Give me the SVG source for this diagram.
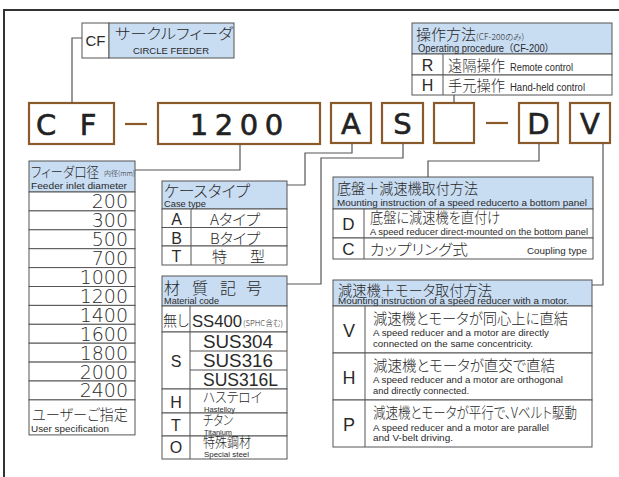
<svg xmlns="http://www.w3.org/2000/svg" width="619" height="477" viewBox="0 0 619 477">
<style>
.code{fill:#fff;stroke:#8b5a2b;stroke-width:2.2}
.hdr{fill:#c8dcf2;stroke:#555;stroke-width:1}
.cell{fill:#fff;stroke:#555;stroke-width:1}
.ln{stroke:#555;stroke-width:1;fill:none}
.conn{stroke:#555;stroke-width:1.2;fill:none}
.dash{stroke:#8b5a2b;stroke-width:2.2}
text{fill:#2a2a2a}
.jp{font-family:"Noto Sans CJK JP","Liberation Sans",sans-serif;font-feature-settings:"palt";font-weight:300}
.en{font-family:"Liberation Sans","Noto Sans CJK JP",sans-serif;font-weight:400}
.big{font-family:"DejaVu Sans",sans-serif;font-size:29px;text-anchor:middle;fill:#222;stroke:#222;stroke-width:0.6}
.num{font-family:"DejaVu Sans",sans-serif;font-size:19px;text-anchor:end;font-weight:300}
.mid{text-anchor:middle}
.end{text-anchor:end}
</style>
<rect width="619" height="477" fill="#fff"/>
<path d="M4,477 V10 H619" fill="none" stroke="#333" stroke-width="2"/>

<g id="cf-label">
<rect class="cell" x="82" y="23" width="27" height="35"/>
<rect class="hdr" x="109" y="23" width="125" height="35"/>
<text class="en mid" x="95.5" y="46" font-size="15">CF</text>
<text class="jp" x="115" y="39" font-size="15" textLength="118" lengthAdjust="spacingAndGlyphs">サークルフィーダ</text>
<text class="en mid" x="171" y="54" font-size="9.5" textLength="76" lengthAdjust="spacingAndGlyphs">CIRCLE FEEDER</text>
</g>

<g id="op-table">
<rect class="hdr" x="412" y="23" width="200" height="31"/>
<rect class="cell" x="412" y="54" width="200" height="21"/>
<rect class="cell" x="412" y="75" width="200" height="20"/>
<line class="ln" x1="443" y1="54" x2="443" y2="95"/>
<text class="jp" x="416" y="39.5" font-size="15">操作方法<tspan font-size="8.5">(CF-200のみ)</tspan></text>
<text class="en" x="418" y="51.5" font-size="10" textLength="136" lengthAdjust="spacingAndGlyphs">Operating procedure（CF-200）</text>
<text class="en mid" x="427.5" y="71" font-size="16">R</text>
<text class="jp" x="448" y="71" font-size="14.5" textLength="57" lengthAdjust="spacingAndGlyphs">遠隔操作</text>
<text class="en" x="510" y="71" font-size="10" textLength="63" lengthAdjust="spacingAndGlyphs">Remote control</text>
<text class="en mid" x="427.5" y="91" font-size="16">H</text>
<text class="jp" x="448" y="91" font-size="14.5" textLength="57" lengthAdjust="spacingAndGlyphs">手元操作</text>
<text class="en" x="510" y="91" font-size="10" textLength="75" lengthAdjust="spacingAndGlyphs">Hand-held control</text>
</g>

<g id="codes">
<rect class="code" x="29" y="103" width="85" height="41"/>
<text class="big" x="46 88" y="135">CF</text>
<line class="dash" x1="125" y1="124" x2="147" y2="124"/>
<rect class="code" x="158" y="103" width="162" height="41"/>
<text class="big" x="199 224 249 274" y="135">1200</text>
<rect class="code" x="331" y="103" width="40" height="40"/>
<text class="big" x="351" y="134">A</text>
<rect class="code" x="382" y="103" width="41" height="40"/>
<text class="big" x="402.5" y="134">S</text>
<rect class="code" x="434" y="103" width="40" height="40"/>
<line class="dash" x1="486" y1="123" x2="508" y2="123"/>
<rect class="code" x="519" y="103" width="39" height="40"/>
<text class="big" x="538.5" y="134">D</text>
<rect class="code" x="570" y="103" width="40" height="40"/>
<text class="big" x="590" y="134">V</text>
</g>

<g id="feeder">
<rect class="hdr" x="29" y="161" width="106" height="31"/>
<text class="jp" x="31" y="176.5" font-size="14" textLength="68" lengthAdjust="spacingAndGlyphs">フィーダ口径</text>
<text class="jp" x="104" y="176" font-size="7">内径(mm)</text>
<text class="en" x="31" y="188.5" font-size="9.5" textLength="96" lengthAdjust="spacingAndGlyphs">Feeder inlet diameter</text>
<rect class="cell" x="29" y="192" width="106" height="18.9"/>
<rect class="cell" x="29" y="210.9" width="106" height="18.9"/>
<rect class="cell" x="29" y="229.8" width="106" height="18.9"/>
<rect class="cell" x="29" y="248.7" width="106" height="18.9"/>
<rect class="cell" x="29" y="267.6" width="106" height="18.9"/>
<rect class="cell" x="29" y="286.5" width="106" height="18.9"/>
<rect class="cell" x="29" y="305.4" width="106" height="18.9"/>
<rect class="cell" x="29" y="324.3" width="106" height="18.9"/>
<rect class="cell" x="29" y="343.2" width="106" height="18.9"/>
<rect class="cell" x="29" y="362.1" width="106" height="18.9"/>
<rect class="cell" x="29" y="381" width="106" height="18.9"/>
<rect class="cell" x="29" y="399.9" width="106" height="35"/>
<text class="num" x="128" y="208.4">200</text>
<text class="num" x="128" y="227.3">300</text>
<text class="num" x="128" y="246.2">500</text>
<text class="num" x="128" y="265.1">700</text>
<text class="num" x="128" y="284">1000</text>
<text class="num" x="128" y="302.9">1200</text>
<text class="num" x="128" y="321.8">1400</text>
<text class="num" x="128" y="340.7">1600</text>
<text class="num" x="128" y="359.6">1800</text>
<text class="num" x="128" y="378.5">2000</text>
<text class="num" x="128" y="397.4">2400</text>
<text class="jp" x="32" y="419.5" font-size="15" textLength="96" lengthAdjust="spacingAndGlyphs">ユーザーご指定</text>
<text class="en" x="31" y="432" font-size="9" textLength="78" lengthAdjust="spacingAndGlyphs">User specification</text>
</g>

<g id="case">
<rect class="hdr" x="162" y="181" width="125" height="28"/>
<text class="jp" x="164" y="196.5" font-size="16" textLength="86" lengthAdjust="spacingAndGlyphs">ケースタイプ</text>
<text class="en" x="164" y="206.5" font-size="9" textLength="42" lengthAdjust="spacingAndGlyphs">Case type</text>
<rect class="cell" x="162" y="209" width="125" height="18.5"/>
<rect class="cell" x="162" y="227.5" width="125" height="18.5"/>
<rect class="cell" x="162" y="246" width="125" height="19"/>
<line class="ln" x1="191" y1="209" x2="191" y2="265"/>
<text class="en mid" x="176.5" y="225" font-size="16">A</text>
<text class="jp" x="210" y="225" font-size="15" textLength="50" lengthAdjust="spacingAndGlyphs">Aタイプ</text>
<text class="en mid" x="176.5" y="243.5" font-size="16">B</text>
<text class="jp" x="210" y="243.5" font-size="15" textLength="50" lengthAdjust="spacingAndGlyphs">Bタイプ</text>
<text class="en mid" x="176.5" y="262" font-size="16">T</text>
<text class="jp" x="212 250" y="262" font-size="15">特型</text>
</g>

<g id="material">
<rect class="hdr" x="162" y="276" width="125" height="30"/>
<text class="jp" x="164 192 220 246" y="293.5" font-size="16">材質記号</text>
<text class="en" x="164" y="303.5" font-size="9" textLength="55" lengthAdjust="spacingAndGlyphs">Material code</text>
<rect class="cell" x="162" y="306" width="125" height="26"/>
<rect class="cell" x="162" y="332" width="125" height="57"/>
<rect class="cell" x="162" y="389" width="125" height="24"/>
<rect class="cell" x="162" y="413" width="125" height="23"/>
<rect class="cell" x="162" y="436" width="125" height="23"/>
<line class="ln" x1="190" y1="306" x2="190" y2="459"/>
<line class="ln" x1="190" y1="351" x2="287" y2="351"/>
<line class="ln" x1="190" y1="370" x2="287" y2="370"/>
<text class="jp" x="163" y="326" font-size="15" textLength="26" lengthAdjust="spacingAndGlyphs">無し</text>
<text class="en" x="192" y="327" font-size="17" textLength="50" lengthAdjust="spacingAndGlyphs">SS400</text>
<text class="jp" x="243" y="326" font-size="8" textLength="40" lengthAdjust="spacingAndGlyphs">(SPHC含む)</text>
<text class="en mid" x="176" y="367" font-size="16">S</text>
<text class="en" x="203" y="348" font-size="18" textLength="70" lengthAdjust="spacingAndGlyphs">SUS304</text>
<text class="en" x="203" y="367" font-size="18" textLength="70" lengthAdjust="spacingAndGlyphs">SUS316</text>
<text class="en" x="203" y="386" font-size="18" textLength="75" lengthAdjust="spacingAndGlyphs">SUS316L</text>
<text class="en mid" x="176" y="408" font-size="16">H</text>
<text class="jp" x="203" y="401.5" font-size="14" textLength="59" lengthAdjust="spacingAndGlyphs">ハステロイ</text>
<text class="en" x="204" y="412" font-size="8" textLength="31" lengthAdjust="spacingAndGlyphs">Hastelloy</text>
<text class="en mid" x="176" y="431" font-size="16">T</text>
<text class="jp" x="203" y="424.5" font-size="14" textLength="30" lengthAdjust="spacingAndGlyphs">チタン</text>
<text class="en" x="204" y="434.5" font-size="8" textLength="28" lengthAdjust="spacingAndGlyphs">Titanium</text>
<text class="en mid" x="176" y="453" font-size="16">O</text>
<text class="jp" x="203" y="446.5" font-size="14" textLength="48" lengthAdjust="spacingAndGlyphs">特殊鋼材</text>
<text class="en" x="204" y="457" font-size="8" textLength="45" lengthAdjust="spacingAndGlyphs">Special steel</text>
</g>

<g id="base-mount">
<rect class="hdr" x="333" y="177" width="260" height="32"/>
<text class="jp" x="337" y="193.5" font-size="15" textLength="141" lengthAdjust="spacingAndGlyphs">底盤＋減速機取付方法</text>
<text class="en" x="337" y="205.5" font-size="9.5" textLength="250" lengthAdjust="spacingAndGlyphs">Mounting instruction of a speed reducerto a bottom panel</text>
<rect class="cell" x="333" y="209" width="260" height="29"/>
<rect class="cell" x="333" y="238" width="260" height="21"/>
<line class="ln" x1="364" y1="209" x2="364" y2="259"/>
<text class="en mid" x="348.5" y="230" font-size="17">D</text>
<text class="jp" x="370" y="222.5" font-size="14.5" textLength="130" lengthAdjust="spacingAndGlyphs">底盤に減速機を直付け</text>
<text class="en" x="370" y="234.5" font-size="8.7" textLength="218" lengthAdjust="spacingAndGlyphs">A speed reducer direct-mounted on the bottom panel</text>
<text class="en mid" x="348.5" y="255" font-size="17">C</text>
<text class="jp" x="370" y="255" font-size="14.5" textLength="98" lengthAdjust="spacingAndGlyphs">カップリング式</text>
<text class="en" x="527" y="254" font-size="9.5" textLength="60" lengthAdjust="spacingAndGlyphs">Coupling type</text>
</g>

<g id="motor-mount">
<rect class="hdr" x="333" y="280" width="259" height="26"/>
<text class="jp" x="338" y="295.5" font-size="15" textLength="154" lengthAdjust="spacingAndGlyphs">減速機＋モータ取付方法</text>
<text class="en" x="338" y="304" font-size="9.5" textLength="231" lengthAdjust="spacingAndGlyphs">Mounting instruction of a speed reducer with a motor.</text>
<rect class="cell" x="333" y="306" width="259" height="47"/>
<rect class="cell" x="333" y="353" width="259" height="47"/>
<rect class="cell" x="333" y="400" width="259" height="47"/>
<line class="ln" x1="365" y1="306" x2="365" y2="447"/>
<text class="en mid" x="349" y="337" font-size="18">V</text>
<text class="jp" x="373" y="323.5" font-size="15" textLength="195" lengthAdjust="spacingAndGlyphs">減速機とモータが同心上に直結</text>
<text class="en" x="373" y="336" font-size="9" textLength="176" lengthAdjust="spacingAndGlyphs">A speed reducer and a motor are directly</text>
<text class="en" x="373" y="346.5" font-size="9" textLength="160" lengthAdjust="spacingAndGlyphs">connected on the same concentricity.</text>
<text class="en mid" x="349" y="383.5" font-size="18">H</text>
<text class="jp" x="373" y="370.5" font-size="15" textLength="182" lengthAdjust="spacingAndGlyphs">減速機とモータが直交で直結</text>
<text class="en" x="373" y="383" font-size="9" textLength="190" lengthAdjust="spacingAndGlyphs">A speed reducer and a motor are orthogonal</text>
<text class="en" x="373" y="393.5" font-size="9" textLength="96" lengthAdjust="spacingAndGlyphs">and directly connected.</text>
<text class="en mid" x="349" y="430.5" font-size="18">P</text>
<text class="jp" x="373" y="417.5" font-size="15" textLength="204" lengthAdjust="spacingAndGlyphs">減速機とモータが平行で、Vベルト駆動</text>
<text class="en" x="373" y="430.5" font-size="9" textLength="176" lengthAdjust="spacingAndGlyphs">A speed reducer and a motor are parallel</text>
<text class="en" x="373" y="441" font-size="9" textLength="80" lengthAdjust="spacingAndGlyphs">and V-belt driving.</text>
</g>

<g id="connectors">
<path class="conn" d="M82,38 H72 V103"/>
<path class="conn" d="M454,95 V103"/>
<path class="conn" d="M240,144 V170 H135"/>
<path class="conn" d="M352,143 V153 H305 V185 H287"/>
<path class="conn" d="M403,143 V158 H321 V284 H287"/>
<path class="conn" d="M539,143 V161 H428 V177"/>
<path class="conn" d="M603,143 V285 H592"/>
</g>
</svg>
